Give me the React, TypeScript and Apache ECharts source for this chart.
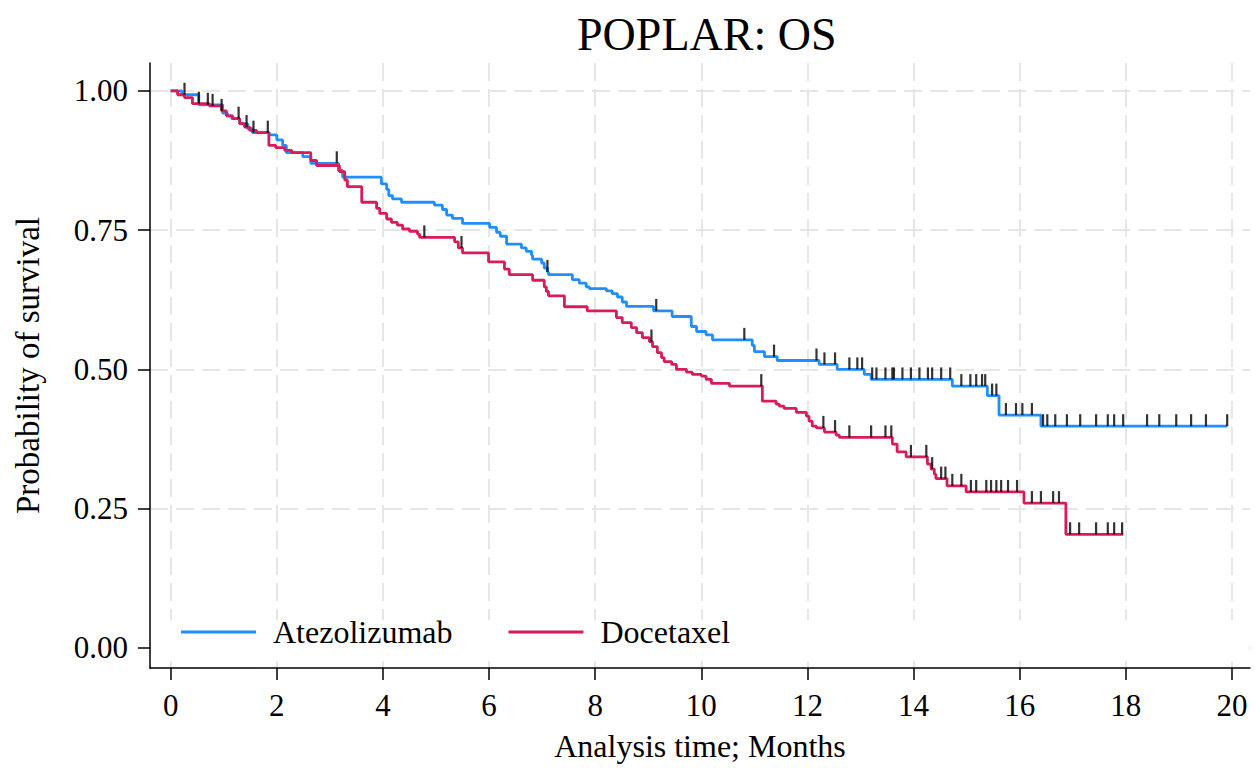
import React, { useEffect, useRef } from "react";
import * as echarts from "echarts";

const titleText = "POPLAR: OS";
const xAxisTitle = "Analysis time; Months";
const yAxisTitle = "Probability of survival";
const xTicks = [0, 2, 4, 6, 8, 10, 12, 14, 16, 18, 20];
const yTicks = [0, 0.25, 0.5, 0.75, 1];
const seriesNames = ["Atezolizumab", "Docetaxel"];

// Atezolizumab KM step points (time in months, survival after the step)
const atezoTimes = [
  0, 0.21, 0.53, 0.98, 1.07, 1.15, 1.3, 1.45, 1.54, 1.86, 2.0, 2.11, 2.18, 2.49, 2.64,
  3.16, 3.24, 3.97, 4.07, 4.11, 4.18, 4.35, 4.97, 5.12, 5.2, 5.31, 5.5, 6.01, 6.14,
  6.21, 6.33, 6.61, 6.7, 6.8, 6.82, 6.99, 7.04, 7.1, 7.12, 7.57, 7.7, 7.83, 7.89,
  8.21, 8.32, 8.42, 8.51, 8.59, 9.1, 9.45, 9.81, 9.91, 10.09, 10.21, 10.96, 11.0,
  11.19, 11.43, 12.22, 12.56, 13.07, 13.2, 14.73, 15.39, 15.61, 16.4, 19.91,
];
const atezoSurv = [
  1.0, 0.993, 0.975, 0.96, 0.955, 0.95, 0.941, 0.932, 0.925, 0.921, 0.912, 0.902, 0.889,
  0.882, 0.87, 0.857, 0.845, 0.833, 0.823, 0.812, 0.806, 0.8, 0.795, 0.787, 0.777,
  0.771, 0.762, 0.755, 0.746, 0.739, 0.725, 0.718, 0.712, 0.705, 0.698, 0.691, 0.682,
  0.675, 0.67, 0.661, 0.655, 0.648, 0.645, 0.641, 0.636, 0.63, 0.621, 0.613, 0.605,
  0.595, 0.577, 0.568, 0.562, 0.553, 0.543, 0.532, 0.523, 0.516, 0.509, 0.5, 0.491,
  0.482, 0.47, 0.453, 0.418, 0.398, 0.398,
];
const atezoCensor = [
  0.26, 0.7, 1.28, 1.56, 3.13, 7.1, 9.15, 10.81, 11.37, 12.17, 12.32, 12.52, 12.79,
  12.94, 13.03, 13.22, 13.3, 13.47, 13.6, 13.63, 13.79, 13.95, 14.11, 14.27, 14.35,
  14.52, 14.69, 14.9, 15.07, 15.18, 15.29, 15.35, 15.48, 15.56, 15.74, 15.93, 16.05,
  16.23, 16.44, 16.52, 16.67, 16.89, 17.14, 17.44, 17.66, 17.78, 17.95, 18.4, 18.63,
  18.95, 19.23, 19.51, 19.91,
];

// Docetaxel KM step points
const doceTimes = [
  0, 0.13, 0.26, 0.41, 0.73, 0.96, 1.05, 1.17, 1.3, 1.39, 1.49, 1.62, 1.85, 1.98, 2.15,
  2.28, 2.64, 2.75, 3.18, 3.28, 3.33, 3.6, 3.88, 3.94, 4.07, 4.16, 4.27, 4.37, 4.5,
  4.65, 4.69, 5.35, 5.42, 5.5, 5.99, 6.29, 6.38, 6.82, 7.04, 7.08, 7.12, 7.42, 7.85,
  8.4, 8.51, 8.68, 8.78, 8.89, 9.02, 9.08, 9.17, 9.25, 9.3, 9.44, 9.53, 9.72, 9.83,
  10.0, 10.09, 10.19, 10.53, 11.15, 11.41, 11.47, 11.56, 11.79, 11.98, 12.03, 12.09,
  12.17, 12.32, 12.54, 12.6, 13.6, 13.69, 13.86, 14.26, 14.33, 14.39, 14.42, 14.63,
  14.99, 16.08, 16.87, 17.95,
];
const doceSurv = [
  1.0, 0.993, 0.988, 0.977, 0.973, 0.964, 0.955, 0.95, 0.941, 0.935, 0.929, 0.925, 0.902,
  0.898, 0.893, 0.889, 0.875, 0.866, 0.855, 0.84, 0.828, 0.8, 0.789, 0.78, 0.77, 0.764,
  0.759, 0.752, 0.748, 0.743, 0.737, 0.729, 0.718, 0.709, 0.693, 0.68, 0.67, 0.66,
  0.648, 0.64, 0.632, 0.6125, 0.605, 0.593, 0.584, 0.575, 0.566, 0.557, 0.55, 0.541,
  0.53, 0.521, 0.514, 0.509, 0.5, 0.495, 0.491, 0.488, 0.482, 0.475, 0.47, 0.443,
  0.4375, 0.434, 0.43, 0.423, 0.416, 0.407, 0.398, 0.395, 0.3875, 0.382, 0.378, 0.366,
  0.352, 0.343, 0.33, 0.321, 0.312, 0.304, 0.291, 0.28, 0.26, 0.204, 0.204,
];
const doceCensor = [
  0.53, 0.79, 0.96, 1.43, 1.83, 4.78, 5.48, 9.06, 11.13, 12.3, 12.52, 12.79, 13.2, 13.47,
  13.58, 13.95, 14.24, 14.35, 14.52, 14.6, 14.73, 14.9, 15.08, 15.18, 15.37, 15.46,
  15.56, 15.65, 15.78, 15.95, 16.23, 16.4, 16.63, 16.74, 16.95, 17.12, 17.44, 17.66,
  17.78, 17.93,
];

const BLUE = "#1f8fff";
const RED = "#d81b5a";
const FONT = "'Liberation Serif', 'Times New Roman', Times, serif";

function survAt(times: number[], surv: number[], t: number): number {
  let s = surv[0];
  for (let i = 0; i < times.length; i++) {
    if (times[i] <= t) s = surv[i];
  }
  return s;
}

function pairs(times: number[], surv: number[]) {
  return times.map((t, i) => [t, surv[i]]);
}

function censorPoints(times: number[], surv: number[], cens: number[]) {
  return cens.map((t) => [t, survAt(times, surv, t)]);
}

export default function App() {
  const ref = useRef<HTMLDivElement>(null);
  useEffect(() => {
    if (!ref.current) return;
    const chart = echarts.init(ref.current, null, { renderer: "svg" });
    const gridLine = { show: true, lineStyle: { color: "#e6e6e6", width: 2, type: [18, 8] as any } };
    const option: any = {
      animation: false,
      backgroundColor: "#ffffff",
      title: {
        text: titleText,
        left: 572,
        top: 6,
        textStyle: { fontFamily: FONT, fontSize: 46, fontWeight: "normal", color: "#000" },
      },
      grid: { left: 150, right: 6, top: 63, bottom: 100, containLabel: false },
      graphic: [
        {
          type: "rect",
          z: 3,
          shape: { x: 152, y: 620, width: 1097, height: 37 },
          style: { fill: "#ffffff" },
          silent: true,
        },
      ],
      legend: {
        data: seriesNames,
        left: 176,
        top: 611,
        icon: "rect",
        itemWidth: 75,
        itemHeight: 3,
        itemGap: 56,
        z: 5,
        textStyle: { fontFamily: FONT, fontSize: 32, color: "#000", padding: [0, 0, 0, 12] },
      },
      xAxis: {
        type: "value",
        min: -0.39,
        max: 20.34,
        name: xAxisTitle,
        nameLocation: "middle",
        nameGap: 62,
        nameTextStyle: { fontFamily: FONT, fontSize: 32, color: "#000" },
        axisLine: { show: true, onZero: false, lineStyle: { color: "#000", width: 1.5 } },
        axisTick: { show: true, length: 12, lineStyle: { color: "#000", width: 1.5 }, customValues: xTicks },
        axisLabel: { fontFamily: FONT, fontSize: 31, color: "#000", margin: 22, customValues: xTicks },
        splitLine: gridLine,
      },
      yAxis: {
        type: "value",
        min: -0.036,
        max: 1.05,
        name: yAxisTitle,
        nameLocation: "middle",
        nameRotate: 90,
        nameGap: 106,
        nameTextStyle: { fontFamily: FONT, fontSize: 33, color: "#000" },
        axisLine: { show: true, onZero: false, lineStyle: { color: "#000", width: 1.5 } },
        axisTick: { show: true, length: 12, lineStyle: { color: "#000", width: 1.5 }, customValues: yTicks },
        axisLabel: {
          fontFamily: FONT,
          fontSize: 31,
          color: "#000",
          margin: 22,
          customValues: yTicks,
          formatter: (v: number) => v.toFixed(2),
        },
        splitLine: gridLine,
      },
      series: [
        {
          name: seriesNames[0],
          type: "line",
          step: "end",
          symbol: "none",
          data: pairs(atezoTimes, atezoSurv),
          itemStyle: { color: BLUE },
          lineStyle: { color: BLUE, width: 2.8 },
          z: 2,
        },
        {
          name: seriesNames[1],
          type: "line",
          step: "end",
          symbol: "none",
          data: pairs(doceTimes, doceSurv),
          itemStyle: { color: RED },
          lineStyle: { color: RED, width: 2.8 },
          z: 3,
        },
        {
          name: "Atezolizumab censored",
          type: "scatter",
          symbol: "rect",
          symbolSize: [2.2, 12],
          symbolOffset: [0, "-50%"],
          data: censorPoints(atezoTimes, atezoSurv, atezoCensor),
          itemStyle: { color: "#000" },
          z: 4,
        },
        {
          name: "Docetaxel censored",
          type: "scatter",
          symbol: "rect",
          symbolSize: [2.2, 12],
          symbolOffset: [0, "-50%"],
          data: censorPoints(doceTimes, doceSurv, doceCensor),
          itemStyle: { color: "#000" },
          z: 4,
        },
      ],
    };
    chart.setOption(option);
    return () => chart.dispose();
  }, []);
  return (
    <div
      ref={ref}
      style={{ position: "fixed", left: 0, top: 0, width: 1256, height: 768, background: "#fff" }}
    />
  );
}
